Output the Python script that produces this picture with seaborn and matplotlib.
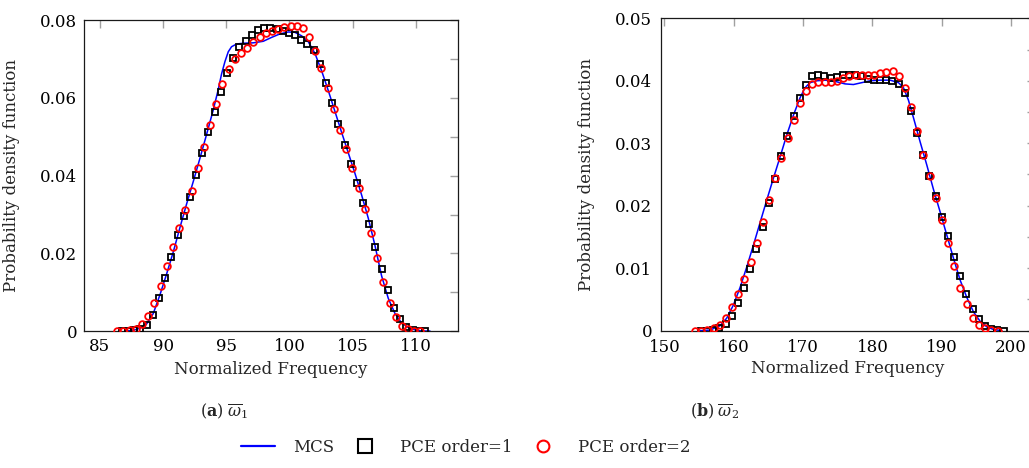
import matplotlib
matplotlib.use("Agg")
import matplotlib.pyplot as plt
from matplotlib.lines import Line2D
from matplotlib.ticker import FixedLocator, MultipleLocator
import seaborn as sns

# ---------------- first natural frequency (w1) ----------------
w1_mcs_x = [87.11, 87.64, 88.17, 88.69, 89.22, 89.75, 90.28, 90.81, 91.33, 91.86,
            92.39, 92.92, 93.45, 93.97, 94.37, 94.63, 94.90, 95.16, 95.42, 95.82,
            96.35, 97.14, 97.93, 98.59, 99.25, 99.91, 100.44, 100.97, 101.49, 102.02,
            102.55, 103.08, 103.61, 104.13, 104.66, 105.19, 105.72, 106.25, 106.77, 107.30,
            107.83, 108.36, 108.88, 109.41, 109.94, 110.47, 111.13]
w1_mcs_y = [0.0000, 0.0002, 0.0007, 0.0018, 0.0045, 0.0093, 0.0147, 0.0204, 0.0266, 0.0327,
            0.0385, 0.0445, 0.0507, 0.0569, 0.0622, 0.0662, 0.0694, 0.0719, 0.0732, 0.0739,
            0.0741, 0.0742, 0.0746, 0.0756, 0.0765, 0.0770, 0.0769, 0.0760, 0.0745, 0.0715,
            0.0670, 0.0619, 0.0565, 0.0512, 0.0459, 0.0406, 0.0350, 0.0290, 0.0221, 0.0142,
            0.0084, 0.0045, 0.0021, 0.0009, 0.0003, 0.0000, 0.0000]

w1_pce1_x = [86.74, 87.23, 87.72, 88.21, 88.70, 89.19, 89.68, 90.17, 90.66, 91.15,
             91.64, 92.13, 92.62, 93.10, 93.59, 94.08, 94.57, 95.06, 95.55, 96.04,
             96.53, 97.02, 97.51, 98.00, 98.49, 98.98, 99.47, 99.96, 100.45, 100.94,
             101.43, 101.92, 102.41, 102.90, 103.39, 103.88, 104.37, 104.86, 105.34, 105.83,
             106.32, 106.81, 107.30, 107.79, 108.28, 108.77, 109.26, 109.75, 110.24, 110.73]
w1_pce1_y = [0.0000, 0.0000, 0.0002, 0.0005, 0.0016, 0.0041, 0.0084, 0.0136, 0.0191, 0.0246,
             0.0296, 0.0346, 0.0402, 0.0458, 0.0512, 0.0565, 0.0616, 0.0665, 0.0702, 0.0731,
             0.0748, 0.0763, 0.0774, 0.0780, 0.0781, 0.0777, 0.0773, 0.0767, 0.0761, 0.0749,
             0.0738, 0.0724, 0.0687, 0.0638, 0.0586, 0.0532, 0.0479, 0.0429, 0.0380, 0.0329,
             0.0275, 0.0217, 0.0160, 0.0106, 0.0060, 0.0031, 0.0011, 0.0003, 0.0000, 0.0000]

w1_pce2_x = [86.37, 86.86, 87.35, 87.84, 88.33, 88.82, 89.31, 89.80, 90.29, 90.78,
             91.27, 91.76, 92.25, 92.74, 93.23, 93.72, 94.21, 94.70, 95.19, 95.68,
             96.17, 96.66, 97.15, 97.64, 98.13, 98.62, 99.11, 99.60, 100.09, 100.58,
             101.07, 101.56, 102.05, 102.54, 103.03, 103.52, 104.01, 104.50, 104.99, 105.48,
             105.97, 106.46, 106.95, 107.44, 107.93, 108.42, 108.91, 109.40, 109.89, 110.38]
w1_pce2_y = [0.0000, 0.0000, 0.0002, 0.0005, 0.0017, 0.0039, 0.0071, 0.0116, 0.0167, 0.0217,
             0.0264, 0.0312, 0.0361, 0.0419, 0.0475, 0.0530, 0.0585, 0.0635, 0.0674, 0.0700,
             0.0717, 0.0728, 0.0743, 0.0756, 0.0767, 0.0773, 0.0778, 0.0782, 0.0785, 0.0786,
             0.0779, 0.0756, 0.0722, 0.0676, 0.0625, 0.0571, 0.0518, 0.0468, 0.0419, 0.0369,
             0.0313, 0.0252, 0.0187, 0.0125, 0.0073, 0.0035, 0.0014, 0.0004, 0.0001, 0.0000]

# ---------------- second natural frequency (w2) ----------------
w2_mcs_x = [155.14, 156.59, 158.03, 158.99, 159.95, 160.91, 161.88, 162.84, 163.80, 164.76,
            165.72, 166.68, 167.64, 168.61, 169.57, 170.29, 171.01, 171.97, 173.17, 174.62,
            176.06, 177.26, 178.46, 179.66, 181.11, 182.55, 183.75, 184.47, 185.19, 185.91,
            186.88, 187.84, 188.80, 189.76, 190.72, 191.68, 192.64, 193.61, 194.57, 195.53,
            196.49, 197.45, 198.65]
w2_mcs_y = [0.0000, 0.0001, 0.0008, 0.0020, 0.0041, 0.0069, 0.0102, 0.0137, 0.0173, 0.0209,
            0.0244, 0.0278, 0.0313, 0.0345, 0.0373, 0.0389, 0.0397, 0.0400, 0.0401, 0.0399,
            0.0395, 0.0394, 0.0397, 0.0400, 0.0401, 0.0401, 0.0397, 0.0389, 0.0369, 0.0341,
            0.0302, 0.0265, 0.0226, 0.0190, 0.0153, 0.0116, 0.0081, 0.0053, 0.0030, 0.0015,
            0.0006, 0.0002, 0.0000]

w2_pce1_x = [155.26, 156.15, 157.04, 157.93, 158.82, 159.71, 160.60, 161.49, 162.38, 163.27,
             164.17, 165.06, 165.95, 166.84, 167.73, 168.62, 169.51, 170.40, 171.29, 172.18,
             173.07, 173.96, 174.85, 175.74, 176.63, 177.52, 178.41, 179.30, 180.19, 181.08,
             181.98, 182.87, 183.76, 184.65, 185.54, 186.43, 187.32, 188.21, 189.10, 189.99,
             190.88, 191.77, 192.66, 193.55, 194.44, 195.33, 196.22, 197.12, 198.01, 198.90]
w2_pce1_y = [0.0000, 0.0000, 0.0001, 0.0004, 0.0011, 0.0023, 0.0044, 0.0069, 0.0098, 0.0131,
             0.0166, 0.0204, 0.0243, 0.0279, 0.0312, 0.0344, 0.0372, 0.0394, 0.0407, 0.0409,
             0.0407, 0.0404, 0.0406, 0.0409, 0.0409, 0.0409, 0.0407, 0.0403, 0.0402, 0.0401,
             0.0401, 0.0400, 0.0395, 0.0380, 0.0352, 0.0317, 0.0281, 0.0247, 0.0215, 0.0182,
             0.0152, 0.0118, 0.0088, 0.0059, 0.0035, 0.0018, 0.0007, 0.0002, 0.0001, 0.0000]

w2_pce2_x = [154.42, 155.31, 156.20, 157.09, 157.98, 158.87, 159.76, 160.65, 161.54, 162.43,
             163.32, 164.21, 165.10, 165.99, 166.88, 167.77, 168.66, 169.55, 170.44, 171.33,
             172.22, 173.11, 174.00, 174.89, 175.78, 176.67, 177.56, 178.45, 179.34, 180.23,
             181.12, 182.01, 182.90, 183.79, 184.68, 185.57, 186.46, 187.35, 188.24, 189.13,
             190.02, 190.91, 191.80, 192.69, 193.58, 194.47, 195.36, 196.25, 197.14, 198.03]
w2_pce2_y = [0.0000, 0.0000, 0.0001, 0.0004, 0.0009, 0.0021, 0.0038, 0.0059, 0.0083, 0.0110,
             0.0141, 0.0174, 0.0209, 0.0244, 0.0277, 0.0308, 0.0337, 0.0364, 0.0384, 0.0395,
             0.0398, 0.0398, 0.0398, 0.0400, 0.0405, 0.0408, 0.0409, 0.0409, 0.0409, 0.0410,
             0.0412, 0.0414, 0.0415, 0.0408, 0.0389, 0.0358, 0.0320, 0.0282, 0.0247, 0.0213,
             0.0177, 0.0141, 0.0104, 0.0069, 0.0042, 0.0021, 0.0009, 0.0004, 0.0001, 0.0000]

# ---------------- axis ticks and labels ----------------
w1_xticks = [85, 90, 95, 100, 105, 110]
w1_yticks = [0, 0.02, 0.04, 0.06, 0.08]
w1_yticklabels = ["0", "0.02", "0.04", "0.06", "0.08"]
w2_xticks = [150, 160, 170, 180, 190, 200]
w2_yticks = [0, 0.01, 0.02, 0.03, 0.04, 0.05]
w2_yticklabels = ["0", "0.01", "0.02", "0.03", "0.04", "0.05"]

series_names = ["MCS", "PCE order=1", "PCE order=2"]
captions = [r"$(\mathbf{a})\;\overline{\omega}_1$", r"$(\mathbf{b})\;\overline{\omega}_2$"]
x_label = "Normalized Frequency"
y_label = "Probability density function"

sns.set_theme(style="white")
plt.rcParams["font.family"] = ["DejaVu Serif"]
plt.rcParams["mathtext.fontset"] = "dejavuserif"

BLUE, BLACK, RED = "#0000ff", "#000000", "#ff0000"
TICK_GREY = "#a0a0a0"

fig = plt.figure(figsize=(10.29, 4.68), dpi=100)
ax1 = fig.add_axes([0.0819, 0.2927, 0.3632, 0.6639])
ax2 = fig.add_axes([0.6424, 0.2934, 0.3632, 0.6675])


def draw_panel(ax, mx, my, p1x, p1y, p2x, p2y):
    sns.lineplot(x=mx, y=my, ax=ax, color=BLUE, linewidth=1.1,
                 estimator=None, sort=False, errorbar=None, zorder=2)
    sns.lineplot(x=p1x, y=p1y, ax=ax, color=BLACK, linestyle="none",
                 marker="s", markersize=4.6, markerfacecolor="none",
                 markeredgecolor=BLACK, markeredgewidth=1.3,
                 estimator=None, sort=False, errorbar=None, zorder=3)
    sns.lineplot(x=p2x, y=p2y, ax=ax, color=RED, linestyle="none",
                 marker="o", markersize=4.8, markerfacecolor="none",
                 markeredgecolor=RED, markeredgewidth=1.3,
                 estimator=None, sort=False, errorbar=None, zorder=4)


draw_panel(ax1, w1_mcs_x, w1_mcs_y, w1_pce1_x, w1_pce1_y, w1_pce2_x, w1_pce2_y)
draw_panel(ax2, w2_mcs_x, w2_mcs_y, w2_pce1_x, w2_pce1_y, w2_pce2_x, w2_pce2_y)

ax1.set_xlim(83.76, 113.35)
ax1.set_ylim(0, 0.08)
ax1.xaxis.set_major_locator(FixedLocator(w1_xticks))
ax1.set_yticks(w1_yticks, w1_yticklabels)
ax1.yaxis.set_minor_locator(MultipleLocator(0.01))

ax2.set_xlim(149.52, 203.4)
ax2.set_ylim(0, 0.05)
ax2.xaxis.set_major_locator(FixedLocator(w2_xticks))
ax2.set_yticks(w2_yticks, w2_yticklabels)
ax2.yaxis.set_minor_locator(MultipleLocator(0.005))

for ax, ylx, ypad, xpad in ((ax1, -0.172, 5, 5), (ax2, -0.177, 6.5, 6)):
    ax.tick_params(which="both", direction="in", top=True, right=True,
                   length=5.5, width=1.0, color=TICK_GREY, labelsize=12,
                   labelcolor="black")
    ax.tick_params(axis="y", which="both", pad=ypad)
    ax.tick_params(axis="x", which="both", pad=xpad)
    for sp in ax.spines.values():
        sp.set_color("#1a1a1a")
        sp.set_linewidth(0.9)
    ax.set_xlabel(x_label, fontsize=12)
    ax.set_ylabel(y_label, fontsize=12)
    ax.yaxis.set_label_coords(ylx, 0.5)
    ax.xaxis.set_label_coords(0.5, -0.095)
    ax.grid(False)

fig.text(224 / 1029, 1 - 411 / 468, captions[0], ha="center", va="center", fontsize=11.5)
fig.text(715 / 1029, 1 - 411 / 468, captions[1], ha="center", va="center", fontsize=11.5)

handles = [
    Line2D([], [], color=BLUE, linewidth=1.6),
    Line2D([], [], color=BLACK, linestyle="none", marker="s", markersize=10,
           markerfacecolor="none", markeredgewidth=1.5),
    Line2D([], [], color=RED, linestyle="none", marker="o", markersize=8.5,
           markerfacecolor="none", markeredgewidth=1.5),
]
fig.legend(handles, series_names, loc="center", ncol=3, frameon=False,
           bbox_to_anchor=(466 / 1029, 1 - 447 / 468), fontsize=12,
           handlelength=2.0, handletextpad=1.1, columnspacing=0.85)

fig.savefig("out.png", dpi=100)
